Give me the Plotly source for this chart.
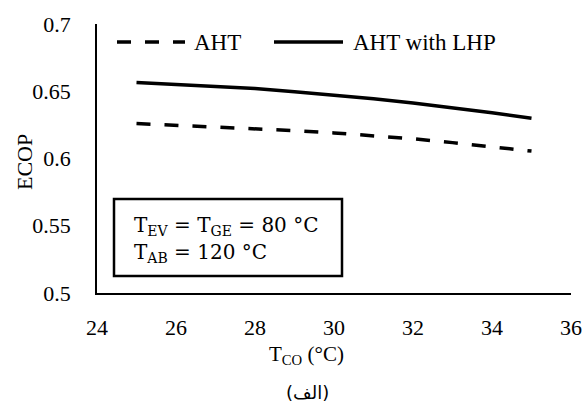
import plotly.graph_objects as go

t_co = [25, 26, 27, 28, 29, 30, 31, 32, 33, 34, 35]
ecop_aht = [0.626, 0.6248, 0.6235, 0.6222, 0.6207, 0.619, 0.617, 0.6147, 0.6118, 0.6088, 0.6055]
ecop_lhp = [0.6565, 0.655, 0.6535, 0.652, 0.6497, 0.6472, 0.6445, 0.6413, 0.6378, 0.634, 0.630]
series_names = ["AHT", "AHT with LHP"]
x_ticks = [24, 26, 28, 30, 32, 34, 36]
y_ticks = [0.5, 0.55, 0.6, 0.65, 0.7]
y_tick_text = ["0.5", "0.55", "0.6", "0.65", "0.7"]

SERIF = "Liberation Serif"
W, H = 585, 407
L, R, T, B = 97, 14, 24, 114
pw, ph = W - L - R, H - T - B

def px(x):
    return (x - L) / pw

def py(y):
    return (H - B - y) / ph

fig = go.Figure()
fig.add_trace(go.Scatter(x=t_co, y=ecop_aht, mode="lines", name=series_names[0],
                         line=dict(color="black", width=3.5, dash="14px,14px"),
                         showlegend=False))
fig.add_trace(go.Scatter(x=t_co, y=ecop_lhp, mode="lines", name=series_names[1],
                         line=dict(color="black", width=3.5),
                         showlegend=False))

shapes = [
    dict(type="line", xref="paper", yref="paper", x0=px(117), x1=px(185), y0=py(42), y1=py(42),
         line=dict(color="black", width=3.5, dash="14px,14px")),
    dict(type="line", xref="paper", yref="paper", x0=px(274), x1=px(343), y0=py(42), y1=py(42),
         line=dict(color="black", width=3.5)),
    dict(type="rect", xref="paper", yref="paper", x0=px(114), x1=px(342), y0=py(276), y1=py(199),
         line=dict(color="black", width=2.5), fillcolor="white"),
]

annotations = [
    dict(text=series_names[0], xref="paper", yref="paper", x=px(192), y=py(42),
         xanchor="left", yanchor="middle", showarrow=False, font=dict(family=SERIF, size=23, color="black")),
    dict(text=series_names[1], xref="paper", yref="paper", x=px(351), y=py(42),
         xanchor="left", yanchor="middle", showarrow=False, font=dict(family=SERIF, size=23, color="black")),
    dict(text="T<sub>EV</sub> = T<sub>GE</sub> = 80 °C", xref="paper", yref="paper", x=px(132), y=py(226),
         xanchor="left", yanchor="middle", showarrow=False, font=dict(family="DejaVu Serif", size=20, color="black")),
    dict(text="T<sub>AB</sub> = 120 °C", xref="paper", yref="paper", x=px(132), y=py(253),
         xanchor="left", yanchor="middle", showarrow=False, font=dict(family="DejaVu Serif", size=20, color="black")),
    dict(text="ECOP", xref="paper", yref="paper", x=px(24), y=py(162), textangle=-90,
         xanchor="center", yanchor="middle", showarrow=False, font=dict(family=SERIF, size=22, color="black")),
    dict(text="T<sub>CO</sub> (°C)", xref="paper", yref="paper", x=px(306), y=py(355),
         xanchor="center", yanchor="middle", showarrow=False, font=dict(family=SERIF, size=21, color="black")),
    dict(text="(الف)", xref="paper", yref="paper", x=px(307), y=py(392),
         xanchor="center", yanchor="middle", showarrow=False, font=dict(family="DejaVu Sans", size=18, color="black")),
]

fig.update_layout(
    width=W, height=H,
    margin=dict(l=L, r=R, t=T, b=B, pad=0, autoexpand=False),
    paper_bgcolor="white", plot_bgcolor="white",
    showlegend=False,
    shapes=shapes, annotations=annotations,
    xaxis=dict(range=[24, 36], tickvals=x_ticks, showgrid=False, zeroline=False,
               showline=True, linecolor="black", linewidth=1.5, ticks="", automargin=False,
               ticklabelstandoff=14,
               tickfont=dict(family=SERIF, size=22, color="black")),
    yaxis=dict(range=[0.5, 0.7], tickvals=y_ticks, ticktext=y_tick_text, showgrid=False, zeroline=False,
               showline=True, linecolor="black", linewidth=1.5, ticks="", automargin=False,
               ticklabelstandoff=20,
               tickfont=dict(family=SERIF, size=22, color="black")),
)

fig.write_html("out.html")
